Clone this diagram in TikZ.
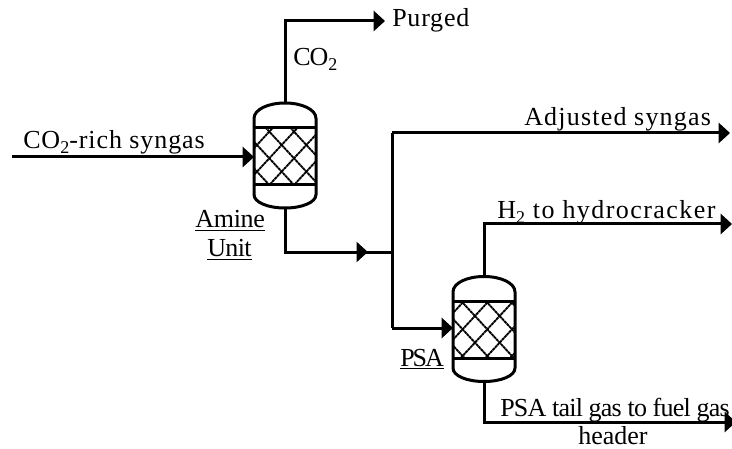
\documentclass[tikz,border=0pt]{standalone}
\usepackage{fontspec}
\setmainfont{Liberation Serif}
\usetikzlibrary{arrows.meta,decorations.markings}
\newcommand{\subtwo}{\raisebox{-3.5pt}{\fontsize{13.5pt}{14pt}\selectfont 2}}
\tikzset{
  x=0.75pt,y=-0.75pt,
  headtip/.tip={Triangle[length=8.5pt,width=15pt]},
  pipe/.style={line width=2.25pt,line join=miter},
  flow/.style={pipe,-headtip},
  midflow/.style={pipe,postaction={decorate},decoration={markings,mark=at position #1 with {\arrow{headtip}}}},
  lab/.style={inner sep=0pt,anchor=base west,font=\fontsize{19.5pt}{22pt}\selectfont\addfontfeature{LetterSpace=#1}},
  vesselbox/.style={minimum width=46.5pt,minimum height=78.75pt,inner sep=0pt,outer sep=0pt},
  shell/.style={line width=2.25pt},
  lattice/.style={line width=1.4pt,dash pattern=on 2.2pt off 0.4pt},
}
\newcommand{\vesselshape}[4]{%
  \begin{scope}[shift={(#1,#2)}]
    \begin{scope}
      \clip (-31,-27.5) rectangle (31,29.5);
      \foreach \k in {-5,...,5}{
        \draw[lattice] (#3+24.7*\k-50,#4+54) -- (#3+24.7*\k+50,#4-54);
        \draw[lattice] (#3+24.7*\k-50,#4-54) -- (#3+24.7*\k+50,#4+54);
      }
    \end{scope}
    \draw[shell] (-31,-37) .. controls (-31,-46) and (-17,-52.5) .. (0,-52.5)
       .. controls (17,-52.5) and (31,-46) .. (31,-37) -- (31,39)
       .. controls (31,47) and (17,52.5) .. (0,52.5)
       .. controls (-17,52.5) and (-31,47) .. (-31,39) -- cycle;
    \draw[shell] (-31,-27.5) -- (31,-27.5);
    \draw[shell] (-31,29.5) -- (31,29.5);
  \end{scope}}
\begin{document}
\begin{tikzpicture}
\useasboundingbox (0,0) rectangle (732,449);
\vesselshape{285}{155.5}{-15.7}{2.8}
\vesselshape{484}{329}{3.3}{0.3}
\node[vesselbox] (amine) at (285,155.5) {};
\node[vesselbox] (psa) at (484,329) {};
\coordinate (feedstart) at (12,157);
\coordinate (co2top) at (285,21);
\coordinate (purged) at (385,21);
\coordinate (aminebend) at (285,252);
\coordinate (junction) at (392,252);
\coordinate (juncttop) at (392,133);
\coordinate (adjusted) at (730,133);
\coordinate (junctbot) at (392,328);
\coordinate (h2bend) at (484,224);
\coordinate (h2end) at (732,224);
\coordinate (tailbend) at (484,422);
\coordinate (tailend) at (736,422);
\draw[flow] (feedstart) -- (feedstart -| amine.west);
\draw[flow] (amine.north) -- (co2top) -- (purged);
\draw[midflow=0.84] (amine.south) -- (aminebend) -- (junction);
\draw[pipe] (junctbot) -- (juncttop);
\draw[flow] (juncttop) -- (adjusted);
\draw[flow] (junctbot) -- (junctbot -| psa.west);
\draw[flow] (psa.north) -- (h2bend) -- (h2end);
\draw[flow] (psa.south) -- (tailbend) -- (tailend);
\node[lab=3] (t1) at (392,27) {Purged};
\node[lab=-4] (t2) at (293,66) {CO\subtwo};
\node[lab=3.5] (t3) at (23,149) {CO\subtwo-rich syngas};
\node[lab=4.6] (t4) at (524,126) {Adjusted syngas};
\node[lab=5.5] (t5) at (497,219) {H\subtwo{} to hydrocracker};
\node[lab=-3] (t6) at (500,416) {PSA tail gas to fuel gas};
\node[lab=0] (t7) at (578,444) {header};
\node[lab=-1] (t8) at (195,228) {\underline{Amine}};
\node[lab=-2.5] (t9) at (207,257) {\underline{Unit}};
\node[lab=-8] (t10) at (400,366) {\underline{PSA}};
\end{tikzpicture}
\end{document}
